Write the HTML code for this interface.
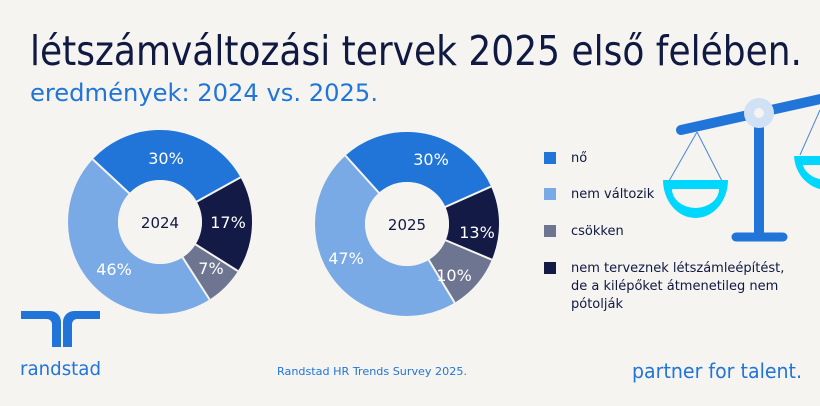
<!DOCTYPE html>
<html><head><meta charset="utf-8"><style>
html,body{margin:0;padding:0;background:#f5f4f0;}
svg{display:block;}
text{font-family:"DejaVu Sans","Liberation Sans",sans-serif;}
</style></head><body>
<svg width="820" height="406" viewBox="0 0 820 406" xmlns="http://www.w3.org/2000/svg">
<rect width="820" height="406" fill="#f5f4f0"/>
<text x="30" y="65" font-size="41" fill="#0f1941" textLength="772" lengthAdjust="spacingAndGlyphs">létszámváltozási tervek 2025 első felében.</text>
<text x="30" y="101" font-size="24" fill="#2175d9" textLength="348" lengthAdjust="spacingAndGlyphs">eredmények: 2024 vs. 2025.</text>

<!-- scale -->
<g>
<line x1="697" y1="132" x2="669" y2="181" stroke="#4a86d8" stroke-width="1"/>
<line x1="697" y1="132" x2="722" y2="181" stroke="#4a86d8" stroke-width="1"/>
<line x1="820" y1="110" x2="800" y2="155" stroke="#4a86d8" stroke-width="1"/>
<path d="M663 180 H728 A32.5 38 0 0 1 663 180 Z" fill="#00d7ff"/>
<path d="M672 189 H719 A23.5 19 0 0 1 672 189 Z" fill="#f5f4f0"/>
<path d="M794 156 H830 V190 A34 36 0 0 1 794 156 Z" fill="#00d7ff"/>
<path d="M803 165 H830 V180 A25 18 0 0 1 803 165 Z" fill="#f5f4f0"/>
<line x1="681" y1="130" x2="825" y2="98" stroke="#2175d9" stroke-width="10" stroke-linecap="round"/>
<rect x="754" y="113" width="10" height="124" fill="#2175d9"/>
<line x1="736" y1="237" x2="783" y2="237" stroke="#2175d9" stroke-width="9" stroke-linecap="round"/>
<circle cx="759" cy="113" r="15" fill="#d0e0f5"/>
<circle cx="759" cy="113" r="5" fill="#f5f4f0"/>
</g>

<!-- donut 2024 -->
<g transform="translate(160,222)">
<circle r="67" fill="none" stroke="#7aaae6" stroke-width="50"/>
<circle r="67" fill="none" stroke="#2175d9" stroke-width="50" stroke-dasharray="126.3 421" transform="rotate(-137)"/>
<circle r="67" fill="none" stroke="#131a45" stroke-width="50" stroke-dasharray="71.6 421" transform="rotate(-29)"/>
<circle r="67" fill="none" stroke="#6e7590" stroke-width="50" stroke-dasharray="29.5 421" transform="rotate(32.2)"/>
<g stroke="#f5f4f0" stroke-width="2">
<line x1="0" y1="0" x2="92" y2="0" transform="rotate(-137)"/>
<line x1="0" y1="0" x2="92" y2="0" transform="rotate(-29)"/>
<line x1="0" y1="0" x2="92" y2="0" transform="rotate(32.2)"/>
<line x1="0" y1="0" x2="92" y2="0" transform="rotate(57.4)"/>
</g>
<circle r="42" fill="#f5f4f0"/>
<text x="0" y="6" font-size="15" fill="#0f1941" text-anchor="middle">2024</text>
<text x="6" y="-58" font-size="16" fill="#fff" text-anchor="middle">30%</text>
<text x="68" y="6" font-size="16" fill="#fff" text-anchor="middle">17%</text>
<text x="51" y="52" font-size="16" fill="#fff" text-anchor="middle">7%</text>
<text x="-46" y="53" font-size="16" fill="#fff" text-anchor="middle">46%</text>
</g>

<!-- donut 2025 -->
<g transform="translate(407,224)">
<circle r="67" fill="none" stroke="#7aaae6" stroke-width="50"/>
<circle r="67" fill="none" stroke="#2175d9" stroke-width="50" stroke-dasharray="126.3 421" transform="rotate(-132)"/>
<circle r="67" fill="none" stroke="#131a45" stroke-width="50" stroke-dasharray="54.7 421" transform="rotate(-24)"/>
<circle r="67" fill="none" stroke="#6e7590" stroke-width="50" stroke-dasharray="42.1 421" transform="rotate(22.8)"/>
<g stroke="#f5f4f0" stroke-width="2">
<line x1="0" y1="0" x2="92" y2="0" transform="rotate(-132)"/>
<line x1="0" y1="0" x2="92" y2="0" transform="rotate(-24)"/>
<line x1="0" y1="0" x2="92" y2="0" transform="rotate(22.8)"/>
<line x1="0" y1="0" x2="92" y2="0" transform="rotate(58.8)"/>
</g>
<circle r="42" fill="#f5f4f0"/>
<text x="0" y="6" font-size="15" fill="#0f1941" text-anchor="middle">2025</text>
<text x="24" y="-59" font-size="16" fill="#fff" text-anchor="middle">30%</text>
<text x="70" y="14" font-size="16" fill="#fff" text-anchor="middle">13%</text>
<text x="47" y="57" font-size="16" fill="#fff" text-anchor="middle">10%</text>
<text x="-61" y="40" font-size="16" fill="#fff" text-anchor="middle">47%</text>
</g>

<!-- legend -->
<rect x="544" y="152" width="12" height="12" fill="#2175d9"/>
<text x="571" y="162" font-size="13" fill="#0f1941">nő</text>
<rect x="544" y="188" width="12" height="12" fill="#7aaae6"/>
<text x="571" y="198" font-size="13" fill="#0f1941">nem változik</text>
<rect x="544" y="225" width="12" height="12" fill="#6e7590"/>
<text x="571" y="235" font-size="13" fill="#0f1941">csökken</text>
<rect x="544" y="262" width="12" height="12" fill="#131a45"/>
<text x="571" y="272" font-size="13" fill="#0f1941">nem terveznek létszámleépítést,</text>
<text x="571" y="290" font-size="13" fill="#0f1941">de a kilépőket átmenetileg nem</text>
<text x="571" y="308" font-size="13" fill="#0f1941">pótolják</text>

<!-- logo -->
<path d="M21 311 H50 A11 11 0 0 1 61 322 V347 H52 V324 A5 5 0 0 0 47 319 H21 Z" fill="#2175d9"/>
<path d="M100 311 H74 A11 11 0 0 0 63 322 V347 H72 V324 A5 5 0 0 1 77 319 H100 Z" fill="#2175d9"/>
<text x="20" y="375" font-size="19" fill="#2175d9" textLength="81" lengthAdjust="spacingAndGlyphs">randstad</text>

<text x="277" y="375" font-size="11" fill="#2175d9" textLength="190" lengthAdjust="spacingAndGlyphs">Randstad HR Trends Survey 2025.</text>
<text x="632" y="378" font-size="20" fill="#2175d9" textLength="170" lengthAdjust="spacingAndGlyphs">partner for talent.</text>
</svg>
</body></html>
